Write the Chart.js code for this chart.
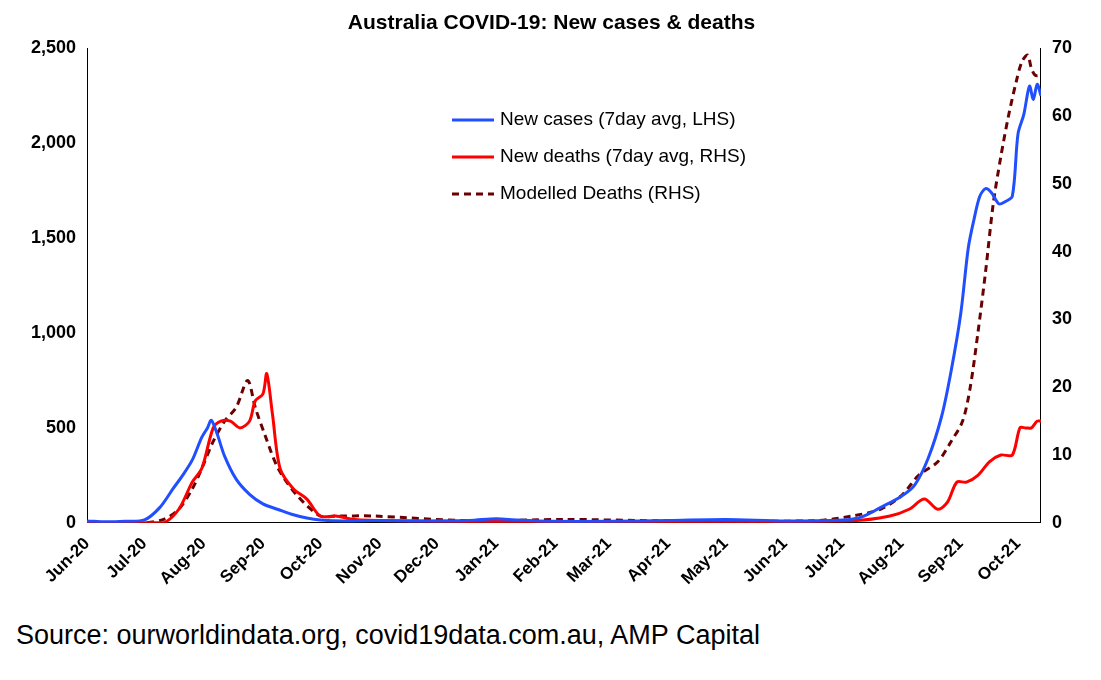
<!DOCTYPE html>
<html><head><meta charset="utf-8">
<script src="https://cdn.jsdelivr.net/npm/chart.js@4/dist/chart.umd.min.js"></script>
<style>
body{margin:0;background:#fff;font-family:Arial,"Liberation Sans",sans-serif}
#wrap{position:absolute;left:0;top:0;width:1101px;height:592px}
#src{position:absolute;left:16px;top:620px;font-size:27px;color:#000}
</style></head><body>
<div id="wrap"><canvas id="c"></canvas></div>
<div id="src">Source: ourworldindata.org, covid19data.com.au, AMP Capital</div>
<script>
// days counted from 1 Jun 2020
const monthLabels = ['Jun-20','Jul-20','Aug-20','Sep-20','Oct-20','Nov-20','Dec-20','Jan-21','Feb-21','Mar-21','Apr-21','May-21','Jun-21','Jul-21','Aug-21','Sep-21','Oct-21'];
const monthDays = [0,30,61,92,122,153,183,214,245,273,304,334,365,395,426,457,487];

const caseDays = [0,10,20,30,38,45,50,55,60,63,65,68,72,78,85,92,100,107,115,122,135,150,170,200,214,225,245,273,304,334,365,395,405,415,426,433,440,447,452,457,461,464,467,470,473,477,480,484,487,490,493,495,497,499];
const caseVals = [10,5,8,15,80,180,250,330,450,500,540,470,350,230,150,100,70,45,25,15,10,12,10,12,22,15,8,8,12,18,10,15,30,80,140,200,340,560,800,1100,1450,1600,1720,1760,1740,1680,1690,1720,2050,2150,2300,2230,2310,2250];

const deathDays = [0,30,40,48,55,60,66,70,75,80,85,88,92,94,97,101,108,115,122,130,140,160,200,300,400,420,430,438,445,450,455,460,466,472,478,484,488,491,494,497,499];
const deathVals = [0,0,0,2,6,8,14,15,15,14,15,18,19,22,16,8,5,3.5,1,1,0.5,0.3,0.2,0.2,0.3,1,2,3.5,2,3,6,6,7,9,10,10,14,14,14,15,15];

const modelDays = [0,30,40,48,55,60,66,72,78,84,88,93,100,110,122,130,150,200,250,300,380,400,415,426,435,445,452,458,462,466,470,474,478,482,486,489,492,494,496,499];
const modelVals = [0,0,0.5,2,5,8,12,15,17,21,17,13,8,4,1,1,1,0.3,0.5,0.3,0.3,1,2,4,7,9,12,15,20,28,37,47,54,60,65,68,69,67,66,66];

const pts = (xs, ys) => xs.map((x, i) => ({x: x, y: ys[i]}));

const legendPlugin = {
  id: 'floatLegend',
  afterDraw(chart) {
    const ctx = chart.ctx;
    const items = [
      {t: 'New cases (7day avg, LHS)', c: '#1f4fff', d: []},
      {t: 'New deaths (7day avg, RHS)', c: '#ff0000', d: []},
      {t: 'Modelled Deaths (RHS)', c: '#6b0000', d: [7, 5]}
    ];
    ctx.save();
    ctx.font = '19px Arial, "Liberation Sans"';
    ctx.textBaseline = 'middle';
    items.forEach((it, i) => {
      const y = 120 + i * 37;
      ctx.strokeStyle = it.c; ctx.lineWidth = 3; ctx.setLineDash(it.d);
      ctx.beginPath(); ctx.moveTo(452, y); ctx.lineTo(494, y); ctx.stroke();
      ctx.fillStyle = '#000'; ctx.fillText(it.t, 500, y);
    });
    ctx.restore();
  }
};

new Chart(document.getElementById('c'), {
  type: 'line',
  data: {
    datasets: [
      {data: pts(caseDays, caseVals), borderColor: '#1f4fff', yAxisID: 'y', borderWidth: 3},
      {data: pts(deathDays, deathVals), borderColor: '#ff0000', yAxisID: 'y2', borderWidth: 3},
      {data: pts(modelDays, modelVals), borderColor: '#6b0000', yAxisID: 'y2', borderWidth: 3, borderDash: [7, 5]}
    ]
  },
  options: {
    responsive: true, maintainAspectRatio: false, animation: false,
    elements: {point: {radius: 0}, line: {tension: 0.3}},
    layout: {padding: {left: 28, right: 26, top: 5}},
    plugins: {
      legend: {display: false}, tooltip: {enabled: false},
      title: {display: true, text: 'Australia COVID-19: New cases & deaths', color: '#000',
        font: {size: 21, weight: 'bold', family: 'Arial'}, padding: {top: 6, bottom: 12}}
    },
    scales: {
      x: {type: 'linear', min: 0, max: 499,
        afterBuildTicks: s => { s.ticks = monthDays.map(v => ({value: v})); },
        ticks: {callback: (v) => monthLabels[monthDays.indexOf(v)], maxRotation: 45, minRotation: 45,
          color: '#000', font: {size: 17, weight: 'bold', family: 'Arial'}, autoSkip: false},
        grid: {display: false, drawTicks: true}, border: {color: '#000'}},
      y: {min: 0, max: 2500, position: 'left',
        ticks: {stepSize: 500, color: '#000', font: {size: 18, weight: 'bold', family: 'Arial'},
          callback: v => v.toLocaleString('en-US')},
        grid: {display: false}, border: {color: '#000'}},
      y2: {min: 0, max: 70, position: 'right',
        ticks: {stepSize: 10, color: '#000', font: {size: 18, weight: 'bold', family: 'Arial'}},
        grid: {display: false}, border: {color: '#000'}}
    }
  },
  plugins: [legendPlugin]
});
</script>
</body></html>
